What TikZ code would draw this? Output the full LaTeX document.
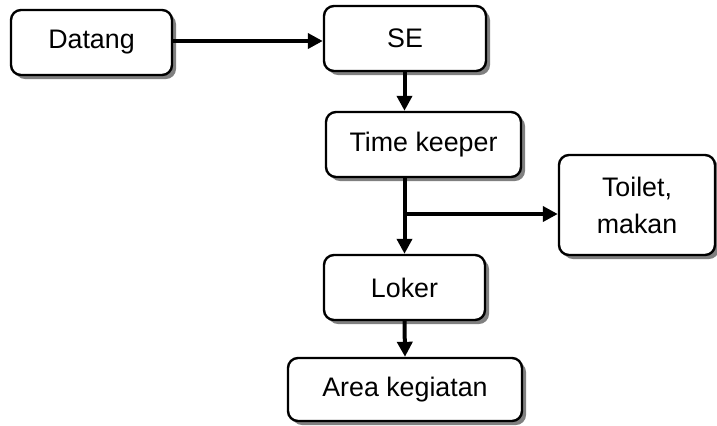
\documentclass[tikz,border=0pt]{standalone}
\usepackage{fontspec}
\setmainfont{Liberation Sans}
\usetikzlibrary{arrows.meta,shadows}
\begin{document}
\begin{tikzpicture}[x=0.5pt,y=-0.5pt,
  box/.style={draw=black, line width=1.2pt, rounded corners=5pt, fill=white,
    inner sep=0pt, align=center, font=\fontsize{13.4}{18.5}\selectfont,
    drop shadow={shadow xshift=2pt, shadow yshift=-2pt, fill=black!50, opacity=1}},
  flow/.style={line width=2pt, -{Triangle[length=7.5pt,width=7.5pt]}}]
  \useasboundingbox (0,0) rectangle (717,425);

  \node[box, minimum width=80.5pt, minimum height=32.5pt] (datang) at (91.5,42.5) {Datang};
  \node[box, minimum width=81pt, minimum height=32.5pt] (se) at (405,38.5) {SE};
  \node[box, minimum width=97.5pt, minimum height=32.5pt] (tk) at (423.5,144.5) {Time keeper};
  \node[box, minimum width=78pt, minimum height=50pt] (toilet) at (637,205) {Toilet,\\makan};
  \node[box, minimum width=80.5pt, minimum height=32.5pt] (loker) at (404.5,287.5) {Loker};
  \node[box, minimum width=117pt, minimum height=31.5pt] (area) at (405,389.5) {Area kegiatan};

  \coordinate (br) at (404.5,214);

  \draw[flow] (datang.east |- 0,41) -- (se.west |- 0,41);
  \draw[flow] (se.south -| loker) -- (tk.north -| loker);
  \draw[flow] (tk.south -| loker) -- (loker.north);
  \draw[flow] (br) -- (toilet.west |- br);
  \draw[flow] (loker.south) -- (area.north);
\end{tikzpicture}
\end{document}
